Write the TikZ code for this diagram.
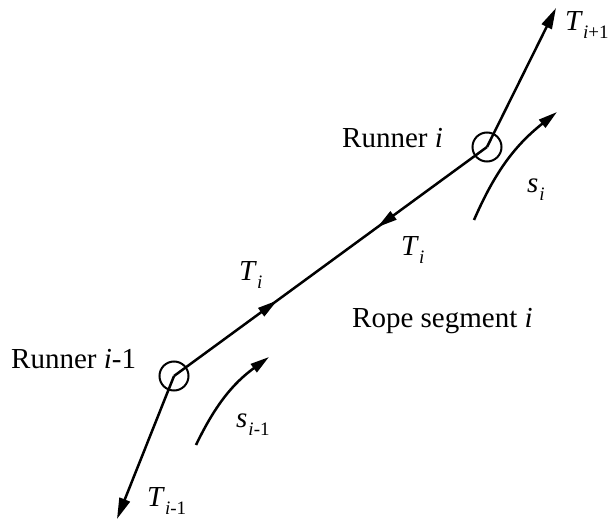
\documentclass[tikz,border=0pt]{standalone}
\usepackage{amsmath}
\usepackage{fontspec}
\setmainfont{Liberation Serif}
\usetikzlibrary{arrows.meta,decorations.markings}
\newcommand{\symsub}[2]{\textit{#1}\raisebox{-8pt}{\fontsize{19}{22}\selectfont #2}}
\begin{document}
\begin{tikzpicture}[x=1pt,y=-1pt,
  rope/.style={line width=2.5pt},
  big/.style={-{Triangle[length=21pt,width=11pt]}},
  runner/.style={circle,draw,line width=2pt,minimum size=29pt,inner sep=0pt},
  lbl/.style={anchor=base west,inner sep=0pt,font=\fontsize{29}{33}\selectfont}]
\useasboundingbox (0,0) rectangle (608,519);
% runners
\node[runner] (r1) at (487,147) {};
\node[runner] (r0) at (174,376) {};
\coordinate (top) at (556,8);
\coordinate (bot) at (117,519);
% rope segments
\draw[rope,big] (r1.center) -- (top);
\draw[rope,big] (r0.center) -- (bot);
\draw[rope,decoration={markings,
   mark=at position 0.33 with {\arrow{Triangle[length=20pt,width=10pt]}},
   mark=at position 0.65 with {\arrowreversed{Triangle[length=20pt,width=10pt]}}},
   postaction={decorate}] (r0.center) -- (r1.center);
% arc coordinates
\coordinate (si0) at (474,220);
\coordinate (si1) at (557,112);
\coordinate (sm0) at (196,445);
\coordinate (sm1) at (269,357);
\draw[rope,-{Triangle[length=19pt,width=10pt]}] (si0) to[bend left=14] (si1);
\draw[rope,-{Triangle[length=19pt,width=10pt]}] (sm0) to[bend left=14] (sm1);
% labels
\node[lbl] (lr1) at (342,147) {Runner \textit{i}};
\node[lbl] (lr0) at (11,368) {Runner \textit{i}-1};
\node[lbl] (lseg) at (352,327) {Rope segment \textit{i}};
\node[lbl] (ltop) at (565,31) {\symsub{T}{\textit{i}+1}};
\node[lbl] (lbot) at (147,506) {\symsub{T}{\textit{i}-1}};
\node[lbl] (lti1) at (401,255) {\symsub{T}{\textit{i}}};
\node[lbl] (lti2) at (239,280) {\symsub{T}{\textit{i}}};
\node[lbl] (lsi) at (527,192) {\symsub{s}{\kern1pt\textit{i}}};
\node[lbl] (lsm) at (236,427) {\symsub{s}{\kern1pt\textit{i}-1}};
\end{tikzpicture}
\end{document}
